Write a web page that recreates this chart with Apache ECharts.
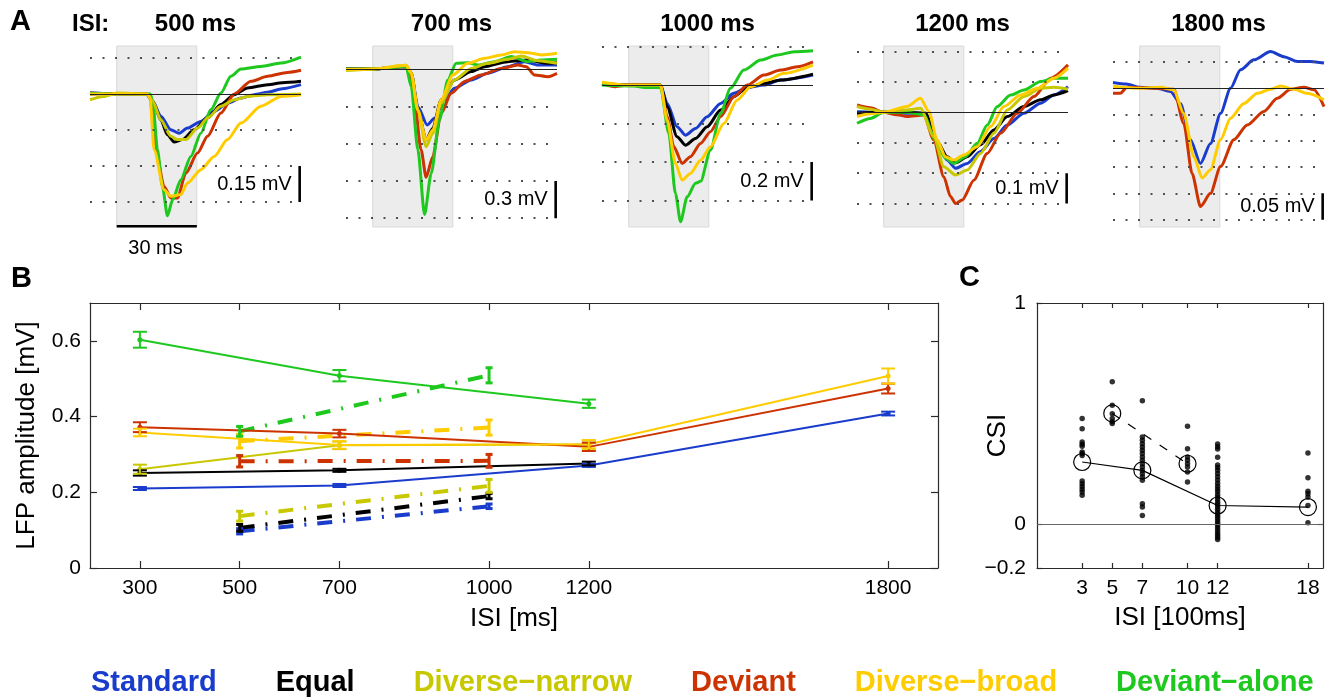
<!DOCTYPE html>
<html>
<head>
<meta charset="utf-8">
<title>LFP amplitude vs ISI</title>
<script src="https://cdn.jsdelivr.net/npm/echarts@6.0.0/dist/echarts.min.js"></script>
<style>
  html, body { margin: 0; padding: 0; background: #fff; }
  #chart { width: 1332px; height: 699px; }
</style>
</head>
<body>
<div id="chart"></div>
<script>
// conditions and their colours (legend order)
const conditions = ['Standard', 'Equal', 'Diverse−narrow', 'Deviant', 'Diverse−broad', 'Deviant−alone']
const colors = ['#1a3ccc', '#000000', '#c8c800', '#cc3300', '#ffcc00', '#1ec81e']

// ---- panel A: example traces, [time (ms), amplitude (mV)] ----
const stimWindow = [0, 30]
const isiTitles = ['500 ms', '700 ms', '1000 ms', '1200 ms', '1800 ms']
const scaleLabels = ['0.15 mV', '0.3 mV', '0.2 mV', '0.1 mV', '0.05 mV']
const scaleBars = [[-0.3, -0.45], [-0.9, -1.2], [-0.4, -0.6], [-0.2, -0.3], [-0.2, -0.25]]
const dotLevels = [
  [0.15, -0.15, -0.3, -0.45],
  [-0.3, -0.6, -0.9, -1.2],
  [0.2, -0.2, -0.4, -0.6],
  [0.2, 0.1, -0.1, -0.2, -0.3],
  [0.05, -0.05, -0.1, -0.15, -0.2, -0.25]
]

const std500 = [[-10,0.005],[0,0],[11,0],[13.5,-0.03],[16.5,-0.093],[20.25,-0.149],[23.4,-0.163],[26.5,-0.142],[31.5,-0.114],[36.5,-0.072],[41.5,-0.038],[46.5,-0.017],[51.5,-0.003],[56.5,0.007],[62,0.022],[69,0.039]]
const eq500 = [[-10,0],[0,0.002],[11.5,0],[13.5,-0.03],[16.5,-0.107],[19,-0.17],[21.5,-0.2],[24.6,-0.19],[29,-0.149],[34,-0.1],[39,-0.044],[44,-0.003],[49,0.025],[56.5,0.039],[62,0.047],[69,0.053]]
const dn500 = [[-10,-0.024],[-5,-0.01],[0,0.004],[11.5,0],[13.5,-0.03],[16.5,-0.107],[20.25,-0.176],[22.75,-0.19],[25.9,-0.19],[30.25,-0.142],[34,-0.1],[39,-0.051],[44,-0.024],[49,-0.01],[56.5,-0.003],[69,0]]
const dev500 = [[-10,0.003],[0,0],[11.5,0],[12.5,-0.02],[14.6,-0.232],[17.75,-0.385],[20.25,-0.433],[22.75,-0.433],[25.9,-0.329],[30.25,-0.246],[34,-0.176],[39,-0.079],[44,0],[50.25,0.053],[56.5,0.074],[64,0.09],[69,0.099]]
const db500 = [[-10,0],[0,0],[11.5,0],[12.5,-0.02],[14,-0.232],[17.75,-0.399],[20.25,-0.426],[24,-0.419],[26.5,-0.371],[31.5,-0.315],[36.5,-0.26],[41.5,-0.19],[46.5,-0.121],[54,-0.051],[61.5,-0.01],[69,-0.003]]
const da500 = [[-10,0.003],[0,0],[12.5,0],[13.5,-0.03],[15.25,-0.232],[17.1,-0.385],[19,-0.507],[20.9,-0.442],[24,-0.357],[27.75,-0.26],[31.5,-0.163],[35.25,-0.065],[39,0.004],[42.75,0.074],[46.5,0.104],[54,0.115],[61.5,0.129],[69,0.154]]

const std700 = [[-10,0],[0,0],[12.5,0.02],[14.4,-0.03],[16.9,-0.303],[20.4,-0.45],[23.1,-0.397],[26.9,-0.25],[30.6,-0.155],[36.9,-0.088],[43.1,-0.035],[50.6,0.019],[56.9,0.059],[61.9,0.032],[69,0.032]]
const eq700 = [[-10,0],[0,0],[12.5,0.02],[14.4,-0.03],[16.9,-0.33],[20,-0.571],[22.5,-0.477],[25.6,-0.25],[30.6,-0.088],[36.9,-0.02],[41.9,0.019],[50.6,0.059],[58.1,0.072],[65.6,0.046],[69,0.051]]
const dn700 = [[-10,-0.013],[0,0],[12.5,0.03],[14.4,-0.03],[16.9,-0.33],[20,-0.625],[22.5,-0.517],[25.6,-0.276],[30.6,-0.088],[36.9,0.005],[43.1,0.046],[50.6,0.078],[55.6,0.105],[61.9,0.067],[69,0.046]]
const dev700 = [[-10,0],[0,0],[12.5,0.02],[13.9,-0.02],[15.6,-0.25],[18.1,-0.65],[20,-0.87],[22.5,-0.705],[25.6,-0.357],[29.4,-0.196],[34.4,-0.1],[40.6,-0.048],[48.1,0.005],[54.4,0.032],[57.5,0.019],[60.6,-0.048],[65.6,-0.062],[69,-0.035]]
const db700 = [[-10,-0.005],[0,0],[12.5,0.03],[14.4,-0.03],[16.9,-0.33],[20,-0.571],[22.5,-0.491],[25.6,-0.25],[30,-0.048],[35.6,0.046],[41.9,0.086],[48.1,0.113],[53.1,0.139],[58.1,0.131],[63.1,0.113],[69,0.126]]
const da700 = [[-10,0],[0,0],[12.5,0.02],[14.4,-0.14],[16.9,-0.65],[19.4,-1.17],[21.9,-0.84],[25,-0.41],[28.1,-0.088],[31.25,0.046],[35.6,0.05],[39.4,0.032],[45.6,0.059],[51.9,0.1],[58.1,0.059],[63.1,0.072],[69,0.078]]

const std1000 = [[-10,0.01],[0,0],[11.9,0],[14.4,-0.095],[18.1,-0.216],[21.25,-0.26],[25,-0.225],[29.4,-0.164],[34.4,-0.095],[39.4,-0.043],[44.4,-0.012],[50.6,0],[56.9,0.026],[69,0.052]]
const eq1000 = [[-10,0.005],[0,0],[11.9,0],[14.4,-0.113],[18.1,-0.268],[21.25,-0.312],[25,-0.277],[29.4,-0.216],[34.4,-0.13],[39.4,-0.06],[44.4,-0.012],[50.6,0.009],[56.9,0.026],[69,0.057]]
const dev1000 = [[-10,0.005],[-5,-0.008],[0,0],[11.9,0],[14.4,-0.165],[16.9,-0.32],[20,-0.407],[23.1,-0.372],[26.9,-0.303],[30.6,-0.242],[34.4,-0.164],[39.4,-0.06],[44.4,0],[50.6,0.052],[56.9,0.078],[63.1,0.095],[69,0.121]]
const db1000 = [[-10,0.015],[0,0],[11.9,0],[14.4,-0.182],[17.5,-0.407],[20,-0.494],[23.1,-0.459],[26.9,-0.39],[30.6,-0.32],[35.6,-0.2],[40.6,-0.078],[45.6,-0.009],[51.9,0.026],[58.1,0.061],[69,0.104]]
const da1000 = [[-10,0],[2,-0.005],[6,-0.012],[11.9,-0.012],[15,-0.25],[17.5,-0.563],[19.4,-0.71],[21.9,-0.58],[25,-0.51],[26.9,-0.5],[30.6,-0.338],[34.4,-0.147],[38.1,-0.017],[43.1,0.078],[49.4,0.13],[55.6,0.156],[61.9,0.173],[69,0.178]]

const std1200 = [[-10,0.002],[0,0],[8.75,-0.003],[15.6,-0.003],[20,-0.102],[23.75,-0.157],[26.9,-0.184],[31.25,-0.168],[36.25,-0.129],[41.25,-0.086],[46.25,-0.042],[52.5,-0.003],[58.75,0.03],[63.75,0.057],[69,0.084]]
const eq1200 = [[-10,-0.003],[0,0],[8.75,0],[15.6,-0.003],[20,-0.096],[23.75,-0.146],[26.9,-0.166],[31.25,-0.146],[36.25,-0.107],[41.25,-0.058],[46.25,-0.014],[52.5,0.019],[58.75,0.041],[63.75,0.057],[69,0.071]]
const dn1200 = [[-10,0.019],[-5,0.01],[0,0],[8.75,0.008],[13.75,0.013],[18.75,-0.08],[22.5,-0.179],[26.9,-0.206],[31.25,-0.19],[36.25,-0.135],[41.25,-0.069],[46.25,0.008],[52.5,0.052],[58.75,0.079],[63.75,0.082],[69,0.076]]
const dev1200 = [[-10,0.024],[-5,0.015],[0,0],[5,-0.008],[8.75,-0.014],[15,-0.009],[18.75,-0.091],[22.5,-0.212],[25,-0.277],[26.9,-0.3],[29.4,-0.288],[33.75,-0.223],[38.75,-0.135],[43.75,-0.069],[50,-0.003],[56.25,0.052],[62.5,0.112],[69,0.156]]
const db1200 = [[-10,-0.014],[-5,-0.005],[0,0],[8.75,0.019],[13.75,0.046],[16.9,0.003],[20,-0.091],[23.1,-0.146],[26.25,-0.157],[30,-0.14],[35,-0.113],[40,-0.047],[45,0.019],[51.25,0.057],[57.5,0.079],[63.75,0.112],[69,0.145]]
const da1200 = [[-10,-0.036],[-5,-0.02],[0,0],[8.75,0],[15,-0.008],[19.4,-0.091],[23.1,-0.151],[26.25,-0.168],[30.6,-0.146],[35,-0.102],[38.75,-0.042],[42.5,0.019],[47.5,0.057],[52.5,0.073],[58.75,0.101],[63.75,0.112],[69,0.112]]

const std1800 = [[-10,0.011],[-5,0.008],[0,0.002],[6.5,0],[11.5,-0.006],[15.25,-0.029],[19,-0.098],[22.75,-0.143],[26.5,-0.105],[30.25,-0.048],[34,0],[37.75,0.035],[42.75,0.054],[49,0.07],[54,0.06],[59,0.051],[64,0.051],[69,0.048]]
const dev1800 = [[-10,-0.0095],[-7.25,-0.0095],[-4.75,0.002],[6.5,0],[12.75,-0.002],[16.5,-0.067],[19.6,-0.162],[22.75,-0.225],[26.5,-0.2],[30.25,-0.149],[35.25,-0.098],[40.25,-0.07],[46.5,-0.044],[51.5,-0.019],[56.5,-0.002],[61.5,0.002],[65.25,-0.003],[69,-0.035]]
const db1800 = [[-10,0.004],[0,0],[7.75,0.002],[12.75,-0.003],[16.5,-0.048],[20.25,-0.13],[23.4,-0.171],[26.5,-0.155],[30.25,-0.098],[34,-0.057],[39,-0.029],[44,-0.0095],[49,-0.002],[52.75,0.0044],[57.75,-0.002],[62.75,-0.0095],[69,-0.022]]

// which traces go in which panel: [condition index, data]
const tracesA = [
  [[0, std500], [1, eq500], [3, dev500], [5, da500], [2, dn500], [4, db500]],
  [[0, std700], [1, eq700], [3, dev700], [5, da700], [2, dn700], [4, db700]],
  [[0, std1000], [1, eq1000], [3, dev1000], [5, da1000], [4, db1000]],
  [[0, std1200], [1, eq1200], [3, dev1200], [5, da1200], [2, dn1200], [4, db1200]],
  [[0, std1800], [3, dev1800], [4, db1800]]
]

// ---- panel B: mean LFP amplitude (mV) and error ----
const isiLong = [300, 700, 1200, 1800]
const ampStd = [0.210, 0.218, 0.271, 0.408]
const ampEq = [0.251, 0.258, 0.276]
const ampDn = [0.261, 0.324, 0.326]
const ampDev = [0.372, 0.355, 0.320, 0.474]
const ampDb = [0.358, 0.325, 0.327, 0.507]
const ampDa = [0.603, 0.508, 0.434]
const errStd = [0.004, 0.004, 0.004, 0.005]
const errEq = [0.007, 0.004, 0.005]
const errDn = [0.012, 0.01, 0.011]
const errDev = [0.013, 0.01, 0.011, 0.013]
const errDb = [0.01, 0.01, 0.011, 0.02]
const errDa = [0.021, 0.015, 0.011]

const isiShort = [500, 1000]
const shortStd = [0.097, 0.163]
const shortEq = [0.106, 0.190]
const shortDn = [0.137, 0.217]
const shortDev = [0.282, 0.283]
const shortDb = [0.335, 0.371]
const shortDa = [0.361, 0.509]
const shortErrStd = [0.007, 0.006]
const shortErrEq = [0.009, 0.007]
const shortErrDn = [0.013, 0.017]
const shortErrDev = [0.015, 0.017]
const shortErrDb = [0.018, 0.02]
const shortErrDa = [0.013, 0.02]

const bTicksX = [300, 500, 700, 1000, 1200, 1800]
const bTicksY = [0, 0.2, 0.4, 0.6]

// ---- panel C: CSI per recording site ----
const csiIsi = [3, 5, 7, 10, 12, 18]
const csi3 = [0.477, 0.431, 0.371, 0.36, 0.351, 0.325, 0.318, 0.309, 0.194, 0.182, 0.169, 0.157, 0.144, 0.129]
const csi5 = [0.643, 0.537, 0.499, 0.477, 0.462, 0.454]
const csi7 = [0.557, 0.393, 0.378, 0.363, 0.348, 0.333, 0.318, 0.303, 0.288, 0.272, 0.257, 0.242, 0.227, 0.212, 0.197, 0.091, 0.076, 0.038]
const csi10 = [0.442, 0.34, 0.303, 0.288, 0.272, 0.257, 0.235, 0.189]
const csi12 = [0.361, 0.349, 0.339, 0.301, 0.266, 0.255, 0.243, 0.228, 0.213, 0.199, 0.184, 0.17, 0.158, 0.146, 0.133, 0.121, 0.11, 0.098, 0.087, 0.077, 0.066, 0.055, 0.044, 0.034, 0.024, 0.013, 0.003, -0.008, -0.019, -0.03, -0.041, -0.052, -0.062, -0.071]
const csi18 = [0.321, 0.209, 0.148, 0.136, 0.121, 0.083, 0.005]
const meanIsiSolid = [3, 7, 12, 18]
const meanCsiSolid = [0.28, 0.242, 0.083, 0.076]
const meanIsiDash = [5, 10]
const meanCsiDash = [0.50, 0.272]
const cTicksX = [3, 5, 7, 10, 12, 18]
const cTicksY = [-0.2, 0, 1]

// layout
const FONT = 'Liberation Sans, Arial, Helvetica, sans-serif'
const AXIS = '#2a2a2a'
const aLefts = [90, 346, 602, 857, 1113]
const aWidth = 211
const aYRanges = [[-0.554, 0.2], [-1.271, 0.185], [-0.737, 0.203], [-0.377, 0.218], [-0.264, 0.0804]]

const chart = echarts.init(document.getElementById('chart'))

const errorBar = (capHalf, width) => (params, api) => {
  const x = api.value(0), y = api.value(1), e = api.value(2)
  const hi = api.coord([x, y + e])
  const lo = api.coord([x, y - e])
  const style = { stroke: api.visual('color'), lineWidth: width }
  return {
    type: 'group',
    children: [
      { type: 'line', shape: { x1: hi[0], y1: hi[1], x2: lo[0], y2: lo[1] }, style },
      { type: 'line', shape: { x1: hi[0] - capHalf, y1: hi[1], x2: hi[0] + capHalf, y2: hi[1] }, style },
      { type: 'line', shape: { x1: lo[0] - capHalf, y1: lo[1], x2: lo[0] + capHalf, y2: lo[1] }, style }
    ]
  }
}

const series = []

// panel A
tracesA.forEach((traces, p) => {
  series.push({
    type: 'line', xAxisIndex: p, yAxisIndex: p, silent: true, z: 1,
    data: [[stimWindow[0], 0]], symbol: 'none', lineStyle: { opacity: 0 },
    markArea: {
      silent: true,
      itemStyle: { color: '#ececec', borderColor: '#d9d9d9', borderWidth: 1 },
      data: [[{ xAxis: stimWindow[0] }, { xAxis: stimWindow[1] }]]
    },
    markLine: {
      silent: true, symbol: ['none', 'none'], label: { show: false },
      lineStyle: { color: '#505050', width: 2, type: [2, 10.5] },
      data: dotLevels[p].map(v => ({ yAxis: v }))
    }
  })
  traces.forEach(([c, d]) => {
    series.push({
      type: 'line', name: conditions[c], xAxisIndex: p, yAxisIndex: p, data: d,
      showSymbol: false, smooth: 0.25, smoothMonotone: 'x', silent: true, z: 2,
      lineStyle: { width: 3, color: colors[c] }, itemStyle: { color: colors[c] }
    })
  })
  const [a, b] = scaleBars[p]
  series.push({
    type: 'line', xAxisIndex: p, yAxisIndex: p, silent: true, z: 3, clip: false,
    symbol: 'circle', symbolSize: 0,
    data: [[68.5, a], {
      value: [68.5, (a + b) / 2],
      label: { show: true, position: 'left', distance: 8, formatter: scaleLabels[p], fontSize: 20, color: '#000', fontFamily: FONT }
    }, [68.5, b]],
    lineStyle: { color: '#000', width: 2.6 }, itemStyle: { color: '#000' },
    markLine: {
      silent: true, symbol: ['none', 'none'], label: { show: false },
      lineStyle: { color: '#222', width: 1, type: 'solid' },
      data: [{ yAxis: 0 }]
    }
  })
})
// 30 ms time bar under the first panel
series.push({
  type: 'line', xAxisIndex: 0, yAxisIndex: 0, silent: true, z: 3, clip: false, symbol: 'none',
  data: [[stimWindow[0], -0.551], [stimWindow[1], -0.551]],
  lineStyle: { color: '#000', width: 2.5 }
})

// panel B
const longAmps = [ampStd, ampEq, ampDn, ampDev, ampDb, ampDa]
const longErrs = [errStd, errEq, errDn, errDev, errDb, errDa]
const shortAmps = [shortStd, shortEq, shortDn, shortDev, shortDb, shortDa]
const shortErrs = [shortErrStd, shortErrEq, shortErrDn, shortErrDev, shortErrDb, shortErrDa]
conditions.forEach((name, c) => {
  const color = colors[c]
  series.push({
    type: 'line', name, xAxisIndex: 5, yAxisIndex: 5, silent: true, z: 3,
    data: longAmps[c].map((v, i) => [isiLong[i], v]),
    symbol: 'circle', symbolSize: 5, lineStyle: { width: 2, color }, itemStyle: { color }
  })
  series.push({
    type: 'custom', name, xAxisIndex: 5, yAxisIndex: 5, silent: true, z: 4,
    renderItem: errorBar(7, 2), encode: { x: 0, y: 1 },
    data: longAmps[c].map((v, i) => [isiLong[i], v, longErrs[c][i]]), itemStyle: { color }
  })
  series.push({
    type: 'line', name, xAxisIndex: 5, yAxisIndex: 5, silent: true, z: 2,
    data: shortAmps[c].map((v, i) => [isiShort[i], v]),
    symbol: 'none', lineStyle: { width: 4, color, type: [15, 11, 2, 11] }
  })
  series.push({
    type: 'custom', name, xAxisIndex: 5, yAxisIndex: 5, silent: true, z: 4,
    renderItem: errorBar(3.5, 3), encode: { x: 0, y: 1 },
    data: shortAmps[c].map((v, i) => [isiShort[i], v, shortErrs[c][i]]), itemStyle: { color }
  })
})

// panel C
const csiCols = [csi3, csi5, csi7, csi10, csi12, csi18]
series.push({
  type: 'line', xAxisIndex: 7, yAxisIndex: 7, silent: true, z: 1,
  data: [[0, 0]], symbol: 'none', lineStyle: { opacity: 0 },
  markLine: {
    silent: true, symbol: ['none', 'none'], label: { show: false },
    lineStyle: { color: '#666', width: 1.2, type: 'solid' }, data: [{ yAxis: 0 }]
  }
})
series.push({
  type: 'scatter', xAxisIndex: 7, yAxisIndex: 7, silent: true, z: 3,
  data: csiCols.flatMap((col, i) => col.map(v => [csiIsi[i], v])),
  symbolSize: 5.5, itemStyle: { color: '#000' }
})
series.push({
  type: 'line', xAxisIndex: 7, yAxisIndex: 7, silent: true, z: 4,
  data: meanIsiSolid.map((x, i) => [x, meanCsiSolid[i]]),
  symbol: 'circle', symbolSize: 17,
  itemStyle: { color: 'rgba(0,0,0,0)', borderColor: '#000', borderWidth: 1.2 },
  lineStyle: { color: '#000', width: 1.2 }
})
series.push({
  type: 'line', xAxisIndex: 7, yAxisIndex: 7, silent: true, z: 4,
  data: meanIsiDash.map((x, i) => [x, meanCsiDash[i]]),
  symbol: 'circle', symbolSize: 17,
  itemStyle: { color: 'rgba(0,0,0,0)', borderColor: '#000', borderWidth: 1.2 },
  lineStyle: { color: '#000', width: 1.2, type: [9, 10] }
})

const plain = v => String(v).replace('-', '−')

const boxAxis = (extra) => Object.assign({
  type: 'value',
  axisLine: { show: true, onZero: false, lineStyle: { color: AXIS, width: 1.2 } },
  axisTick: { show: true, inside: true, length: 7, lineStyle: { color: AXIS, width: 1.2 } },
  axisLabel: { fontSize: 21, color: '#000', fontFamily: FONT },
  splitLine: { show: false },
  nameMoveOverlap: false,
  nameTextStyle: { fontSize: 26, color: '#000', fontFamily: FONT }
}, extra)

const xAxes = aLefts.map((_, p) => ({ type: 'value', gridIndex: p, min: -10, max: 69, show: false }))
const yAxes = aYRanges.map(([lo, hi], p) => ({ type: 'value', gridIndex: p, min: lo, max: hi, show: false }))

xAxes.push(boxAxis({
  gridIndex: 5, min: 200, max: 1900, position: 'bottom',
  axisTick: { show: true, inside: true, length: 7, customValues: bTicksX, lineStyle: { color: AXIS, width: 1.2 } },
  axisLabel: { customValues: bTicksX, fontSize: 21, color: '#000', margin: 10, fontFamily: FONT, formatter: plain },
  name: 'ISI [ms]', nameLocation: 'middle', nameGap: 38
}))
xAxes.push(boxAxis({
  gridIndex: 5, min: 200, max: 1900, position: 'top',
  axisTick: { show: true, inside: true, length: 7, customValues: bTicksX, lineStyle: { color: AXIS, width: 1.2 } },
  axisLabel: { show: false }
}))
xAxes.push(boxAxis({
  gridIndex: 6, min: 0, max: 19, position: 'bottom',
  axisTick: { show: true, inside: true, length: 5, customValues: cTicksX, lineStyle: { color: AXIS, width: 1.2 } },
  axisLabel: { customValues: cTicksX, fontSize: 21, color: '#000', margin: 10, fontFamily: FONT, formatter: plain },
  name: 'ISI [100ms]', nameLocation: 'middle', nameGap: 37
}))
xAxes.push(boxAxis({
  gridIndex: 6, min: 0, max: 19, position: 'top',
  axisTick: { show: true, inside: true, length: 5, customValues: cTicksX, lineStyle: { color: AXIS, width: 1.2 } },
  axisLabel: { show: false }
}))

yAxes.push(boxAxis({
  gridIndex: 5, min: 0, max: 0.7, position: 'left',
  axisTick: { show: true, inside: true, length: 7, customValues: bTicksY, lineStyle: { color: AXIS, width: 1.2 } },
  axisLabel: { customValues: bTicksY, fontSize: 21, color: '#000', margin: 9, fontFamily: FONT, formatter: plain },
  name: 'LFP amplitude [mV]', nameLocation: 'middle', nameGap: 50
}))
yAxes.push(boxAxis({
  gridIndex: 5, min: 0, max: 0.7, position: 'right',
  axisTick: { show: true, inside: true, length: 7, customValues: bTicksY, lineStyle: { color: AXIS, width: 1.2 } },
  axisLabel: { show: false }
}))
yAxes.push(boxAxis({
  gridIndex: 6, min: -0.2, max: 1, position: 'left',
  axisTick: { show: true, inside: true, length: 5, customValues: cTicksY, lineStyle: { color: AXIS, width: 1.2 } },
  axisLabel: { customValues: cTicksY, fontSize: 21, color: '#000', margin: 11, fontFamily: FONT, formatter: plain },
  name: 'CSI', nameLocation: 'middle', nameGap: 26
}))
yAxes.push(boxAxis({
  gridIndex: 6, min: -0.2, max: 1, position: 'right',
  axisTick: { show: true, inside: true, length: 5, customValues: [0], lineStyle: { color: AXIS, width: 1.2 } },
  axisLabel: { show: false }
}))

const grids = aLefts.map(left => ({ left, top: 46, width: aWidth, height: 181, outerBoundsMode: 'none' }))
grids.push({ left: 90, top: 303, width: 848, height: 265, outerBoundsMode: 'none' })
grids.push({ left: 1037, top: 303, width: 286, height: 265, outerBoundsMode: 'none' })

const text = (str, x, y, size, bold, align) => ({
  type: 'text', x, y, silent: true,
  style: {
    text: str, fill: '#000', fontSize: size, fontWeight: bold ? 'bold' : 'normal', fontFamily: FONT,
    align: align || 'left', textAlign: align || 'left', verticalAlign: 'middle', textVerticalAlign: 'middle'
  }
})
const graphics = [
  text('A', 10, 22, 29, true),
  text('ISI:', 72, 24, 24, true),
  text('30 ms', 155.5, 248, 20, false, 'center'),
  text('B', 11, 279, 29, true),
  text('C', 959, 278, 29, true)
]
isiTitles.forEach((t, p) => graphics.push(text(t, aLefts[p] + aWidth / 2, 24, 24, true, 'center')))

chart.setOption({
  animation: false,
  backgroundColor: '#fff',
  textStyle: { fontFamily: FONT },
  grid: grids,
  xAxis: xAxes,
  yAxis: yAxes,
  legend: {
    data: conditions.map((name, i) => ({ name, textStyle: { color: colors[i] } })),
    left: 86, top: 668, padding: 0, icon: 'none', itemWidth: 0, itemGap: 54,
    selectedMode: false,
    textStyle: { fontSize: 29, fontWeight: 'bold', fontFamily: FONT }
  },
  graphic: graphics,
  series
})
</script>
</body>
</html>
